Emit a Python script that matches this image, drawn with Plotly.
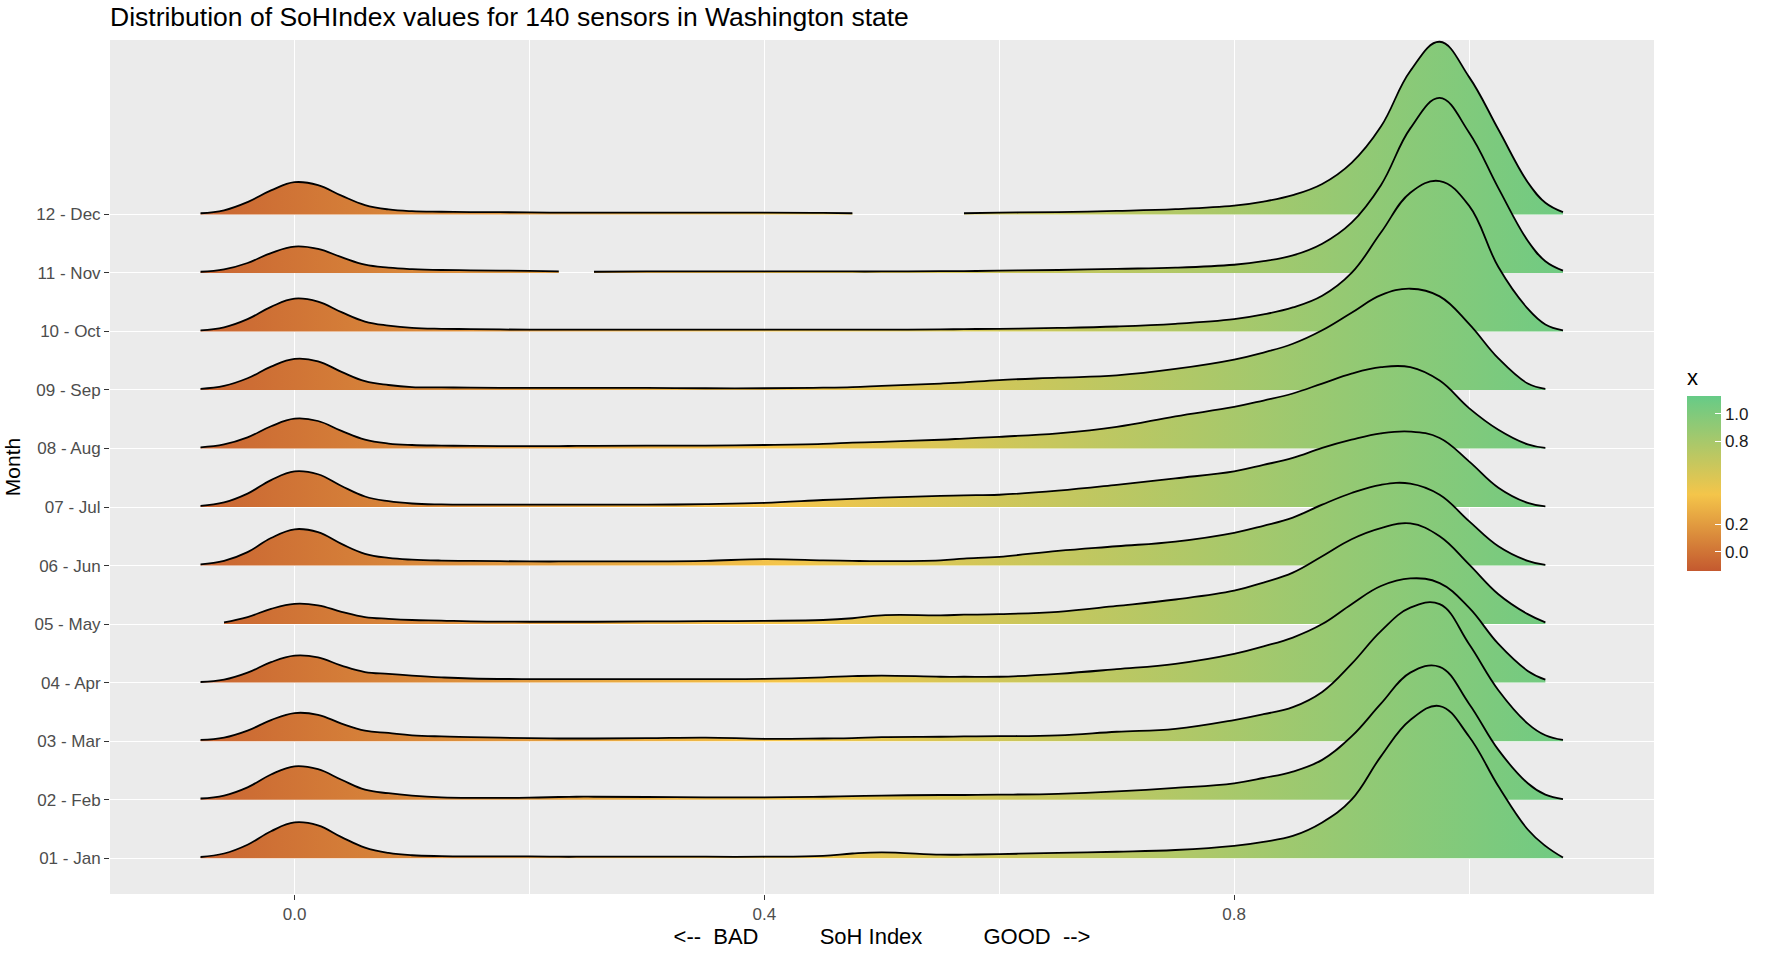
import plotly.graph_objects as go

# SoH index grid (x) shared by every month's density curve
soh_grid = [-0.08, -0.06, -0.04, -0.02, 0.0, 0.02, 0.04, 0.06, 0.08, 0.10,
            0.125, 0.15, 0.20, 0.225, 0.24, 0.255, 0.30, 0.35, 0.40, 0.45,
            0.475, 0.50, 0.55, 0.57, 0.60, 0.65, 0.70, 0.75, 0.80, 0.825, 0.85,
            0.875, 0.90, 0.925, 0.95, 0.975, 1.00, 1.025, 1.05, 1.065, 1.08]

month_labels = ["01 - Jan", "02 - Feb", "03 - Mar", "04 - Apr", "05 - May", "06 - Jun",
                "07 - Jul", "08 - Aug", "09 - Sep", "10 - Oct", "11 - Nov", "12 - Dec"]

# Scaled density heights (in row units); None = density trimmed away
dens_jan = [.02, .08, .23, .46, .61, .56, .36, .18, .09, .05, .035, .03, .03, .025, .025, .025, .025, .025, .025, .04,
            .08, .10, .06, .06, .07, .09, .11, .14, .21, .28, .38, .61, 1.0, 1.74, 2.36, 2.6, 2.08, 1.23, .49, .21, .01]
dens_feb = [.02, .07, .21, .43, .57, .52, .34, .17, .11, .07, .04, .03, .035, .045, .05, .05, .045, .04, .04, .05,
            .06, .07, .08, .08, .085, .10, .14, .20, .28, .37, .48, .68, 1.08, 1.64, 2.17, 2.27, 1.64, .85, .28, .085, .01]
dens_mar = [.02, .06, .18, .36, .48, .45, .30, .18, .14, .10, .08, .07, .05, .045, .045, .045, .05, .06, .04, .045,
            .05, .07, .075, .08, .085, .10, .16, .21, .36, .46, .58, .84, 1.32, 1.88, 2.28, 2.34, 1.66, .87, .30, .10, .02]
dens_apr = [.01, .05, .17, .35, .46, .43, .29, .18, .15, .12, .09, .07, .06, .06, .06, .06, .06, .06, .065, .09,
            .11, .12, .10, .10, .10, .15, .23, .32, .49, .62, .77, 1.0, 1.34, 1.65, 1.78, 1.70, 1.28, .66, .20, .05, None]
dens_may = [None, .03, .12, .26, .345, .32, .21, .12, .09, .07, .06, .045, .04, .04, .04, .04, .045, .05, .055, .07,
            .10, .15, .15, .16, .17, .21, .31, .42, .57, .71, .88, 1.16, 1.45, 1.64, 1.72, 1.50, 1.02, .51, .17, .03, None]
dens_jun = [.02, .08, .23, .47, .62, .57, .37, .20, .13, .10, .085, .08, .07, .07, .07, .07, .07, .08, .11, .09,
            .08, .075, .09, .12, .15, .25, .33, .41, .56, .68, .82, 1.04, 1.24, 1.38, 1.40, 1.21, .76, .33, .08, .01, None]
dens_jul = [.02, .08, .23, .46, .61, .56, .36, .18, .10, .06, .045, .04, .04, .04, .04, .04, .04, .05, .07, .12,
            .14, .16, .19, .20, .21, .28, .38, .49, .61, .72, .84, 1.01, 1.15, 1.26, 1.29, 1.18, .78, .33, .07, .01, None]
dens_aug = [.02, .07, .19, .38, .51, .47, .30, .15, .085, .06, .05, .045, .04, .04, .045, .045, .05, .05, .06, .08,
            .10, .115, .15, .17, .20, .26, .37, .55, .71, .82, .94, 1.11, 1.28, 1.39, 1.39, 1.16, .69, .32, .07, .01, None]
dens_sep = [.02, .07, .20, .40, .53, .49, .31, .15, .085, .05, .045, .04, .035, .035, .035, .035, .035, .03, .03, .04,
            .05, .07, .11, .13, .17, .21, .25, .36, .52, .64, .79, 1.02, 1.32, 1.62, 1.73, 1.60, 1.13, .54, .11, .02, None]
dens_oct = [.02, .07, .21, .42, .56, .51, .33, .17, .10, .06, .045, .04, .03, .03, .03, .03, .03, .03, .03, .03,
            .03, .03, .035, .04, .045, .06, .085, .13, .21, .29, .41, .61, 1.0, 1.69, 2.37, 2.57, 2.15, 1.10, .39, .12, .02]
dens_nov = [.02, .06, .17, .34, .45, .41, .27, .14, .09, .065, .05, .045, .035, .025, None, .02, .025, .025, .025, .025,
            .025, .025, .03, .03, .04, .05, .07, .09, .14, .20, .30, .50, .86, 1.50, 2.47, 2.99, 2.40, 1.45, .55, .20, .04]
dens_dec = [.02, .07, .21, .41, .55, .50, .32, .16, .085, .055, .045, .04, .035, .03, .03, .03, .03, .03, .03, .025,
            .02, None, None, .02, .03, .04, .06, .09, .15, .22, .33, .52, .88, 1.50, 2.45, 2.95, 2.35, 1.45, .55, .20, .04]

month_densities = [dens_jan, dens_feb, dens_mar, dens_apr, dens_may, dens_jun,
                   dens_jul, dens_aug, dens_sep, dens_oct, dens_nov, dens_dec]

# Fill colour scale along the SoH axis
fill_scale = [[0.0, "#C4592F"], [0.437, "#F4C54A"], [1.0, "#66CB87"]]
scale_min, scale_max = -0.14, 1.13
legend_ticks = [0.0, 0.2, 0.8, 1.0]

FONT = "Liberation Sans, Arial, Helvetica, sans-serif"

fig = go.Figure()


def segments(xs, hs):
    """Split a curve into contiguous runs where the density is defined."""
    run_x, run_h = [], []
    for xv, hv in zip(xs, hs):
        if hv is None:
            if run_x:
                yield run_x, run_h
            run_x, run_h = [], []
        else:
            run_x.append(xv)
            run_h.append(hv)
    if run_x:
        yield run_x, run_h


# Top row first so that lower ridges are painted over the ones behind them
for row in range(len(month_labels), 0, -1):
    heights = month_densities[row - 1]
    for seg_x, seg_h in segments(soh_grid, heights):
        fig.add_trace(go.Scatter(
            x=seg_x, y=[row] * len(seg_x), mode="lines",
            line=dict(width=0, color="rgba(0,0,0,0)"),
            hoverinfo="skip", showlegend=False))
        fig.add_trace(go.Scatter(
            x=seg_x, y=[row + h for h in seg_h], mode="lines",
            line=dict(color="black", width=1.8, shape="spline", smoothing=1.15),
            fill="tonexty",
            fillgradient=dict(type="horizontal", colorscale=fill_scale,
                              start=scale_min, stop=scale_max),
            hoverinfo="skip", showlegend=False))

# Colour bar legend
fig.add_trace(go.Scatter(
    x=[0.5], y=[5], mode="markers",
    marker=dict(size=1, opacity=0, color=[0.5], colorscale=fill_scale,
                cmin=scale_min, cmax=scale_max, showscale=True,
                colorbar=dict(
                    title=dict(text="x", side="top",
                               font=dict(size=22, color="black", family=FONT)),
                    thickness=34, thicknessmode="pixels",
                    len=205, lenmode="pixels",
                    x=1.0213, xanchor="left", y=0.4983, yanchor="middle",
                    tickvals=legend_ticks,
                    ticktext=[f"{v:.1f}" for v in legend_ticks],
                    tickprefix="\u00a0\u00a0",
                    ticks="inside", ticklen=6, tickcolor="white", tickwidth=1.2,
                    outlinewidth=0, xpad=0, ypad=0,
                    tickfont=dict(size=17, color="#1a1a1a", family=FONT))),
    hoverinfo="skip", showlegend=False))

fig.update_layout(
    width=1767, height=956,
    margin=dict(l=109, r=110, t=40, b=58),
    paper_bgcolor="white", plot_bgcolor="#EBEBEB",
    font=dict(family=FONT),
    title=dict(text="Distribution of SoHIndex values for 140 sensors in Washington state",
               x=0, xref="paper", xanchor="left",
               y=0.983, yref="container", yanchor="middle",
               font=dict(size=26.5, color="black", family=FONT)),
    xaxis=dict(
        range=[-0.1571, 1.1575],
        tickvals=[0.0, 0.4, 0.8], ticktext=["0.0", "0.4", "0.8"],
        ticks="outside", ticklen=5, tickcolor="#333333", tickwidth=1.1,
        tickfont=dict(size=17, color="#4D4D4D", family=FONT),
        showgrid=True, gridcolor="white", gridwidth=1.2,
        minor=dict(tickvals=[0.2, 0.6, 1.0], showgrid=True,
                   gridcolor="white", gridwidth=0.6, ticks=""),
        zeroline=False, showline=False,
        title=dict(text="<--  BAD\u00a0\u00a0\u00a0\u00a0\u00a0\u00a0\u00a0\u00a0\u00a0\u00a0SoH Index"
                        "\u00a0\u00a0\u00a0\u00a0\u00a0\u00a0\u00a0\u00a0\u00a0\u00a0GOOD\u00a0\u00a0-->",
                   font=dict(size=22, color="black", family=FONT), standoff=4)),
    yaxis=dict(
        range=[0.388, 14.98],
        tickvals=list(range(1, len(month_labels) + 1)), ticktext=month_labels,
        ticks="outside", ticklen=5, tickcolor="#333333", tickwidth=1.1,
        tickfont=dict(size=17, color="#4D4D4D", family=FONT),
        showgrid=True, gridcolor="white", gridwidth=1.2,
        zeroline=False, showline=False,
        title=dict(text="Month", font=dict(size=21, color="black", family=FONT), standoff=8)),
)

fig.write_html("out.html")
